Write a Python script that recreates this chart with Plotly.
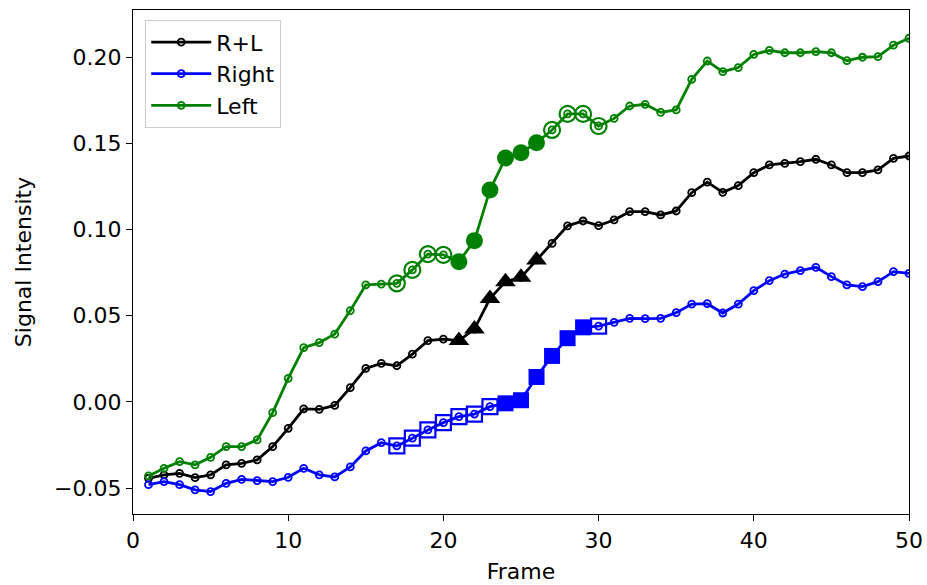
import plotly.graph_objects as go

frames = list(range(1, 51))

rl = [-0.0443, -0.0423, -0.0414, -0.0439, -0.0423, -0.0365, -0.0356, -0.0336, -0.0259, -0.0153,
      -0.0040, -0.0043, -0.0020, 0.0083, 0.0195, 0.0224, 0.0210, 0.0277, 0.0356, 0.0365,
      0.0356, 0.0423, 0.0600, 0.0698, 0.0723, 0.0824, 0.0920, 0.1022, 0.1050, 0.1023,
      0.1056, 0.1104, 0.1104, 0.1085, 0.1108, 0.1214, 0.1275, 0.1216, 0.1255, 0.1330,
      0.1375, 0.1384, 0.1394, 0.1408, 0.1375, 0.1330, 0.1330, 0.1346, 0.1413, 0.1427]

right = [-0.0480, -0.0462, -0.0480, -0.0510, -0.0520, -0.0472, -0.0449, -0.0456, -0.0462, -0.0437,
         -0.0385, -0.0423, -0.0435, -0.0377, -0.0284, -0.0236, -0.0255, -0.0210, -0.0162, -0.0120,
         -0.0085, -0.0070, -0.0027, -0.0008, 0.0010, 0.0145, 0.0267, 0.0370, 0.0433, 0.0440,
         0.0462, 0.0485, 0.0484, 0.0485, 0.0518, 0.0568, 0.0570, 0.0516, 0.0568, 0.0646,
         0.0704, 0.0742, 0.0762, 0.0781, 0.0727, 0.0679, 0.0669, 0.0698, 0.0756, 0.0746]

left = [-0.0429, -0.0385, -0.0346, -0.0365, -0.0321, -0.0259, -0.0259, -0.0220, -0.0062, 0.0137,
        0.0315, 0.0344, 0.0394, 0.0530, 0.0679, 0.0684, 0.0688, 0.0766, 0.0858, 0.0853,
        0.0814, 0.0936, 0.1230, 0.1415, 0.1446, 0.1504, 0.1578, 0.1671, 0.1671, 0.1601,
        0.1645, 0.1717, 0.1727, 0.1680, 0.1694, 0.1872, 0.1978, 0.1916, 0.1940, 0.2016,
        0.2040, 0.2026, 0.2026, 0.2032, 0.2026, 0.1980, 0.2000, 0.2003, 0.2070, 0.2110]

rl_filled_frames = [21, 22, 23, 24, 25, 26]
left_open_frames = [17, 18, 19, 20, 27, 28, 29, 30]
left_filled_frames = [21, 22, 23, 24, 25, 26]
right_open_frames = [17, 18, 19, 20, 21, 22, 23, 30]
right_filled_frames = [24, 25, 26, 27, 28, 29]

names = ["R+L", "Right", "Left"]
colors = ["black", "blue", "green"]


def pick(series, fr):
    return [series[f - 1] for f in fr]


fig = go.Figure()

for name, ser, col in zip(names, [rl, right, left], colors):
    fig.add_trace(go.Scatter(
        x=frames, y=ser, name=name, mode="lines+markers",
        line=dict(color=col, width=2.8),
        marker=dict(symbol="circle-open", size=7, color=col, line=dict(width=1.8, color=col)),
    ))

# highlight markers
fig.add_trace(go.Scatter(x=rl_filled_frames, y=pick(rl, rl_filled_frames), mode="markers",
                         showlegend=False,
                         marker=dict(symbol="triangle-up", size=18, color="black")))
fig.add_trace(go.Scatter(x=right_open_frames, y=pick(right, right_open_frames), mode="markers",
                         showlegend=False,
                         marker=dict(symbol="square-open", size=15, color="blue",
                                     line=dict(width=2.2, color="blue"))))
fig.add_trace(go.Scatter(x=right_filled_frames, y=pick(right, right_filled_frames), mode="markers",
                         showlegend=False,
                         marker=dict(symbol="square", size=16, color="blue")))
fig.add_trace(go.Scatter(x=left_open_frames, y=pick(left, left_open_frames), mode="markers",
                         showlegend=False,
                         marker=dict(symbol="circle-open", size=16, color="green",
                                     line=dict(width=2.2, color="green"))))
fig.add_trace(go.Scatter(x=left_filled_frames, y=pick(left, left_filled_frames), mode="markers",
                         showlegend=False,
                         marker=dict(symbol="circle", size=17, color="green")))

font_family = "DejaVu Sans"
fig.update_layout(
    width=927, height=585,
    margin=dict(l=133, r=18, t=10, b=71),
    plot_bgcolor="white", paper_bgcolor="white",
    font=dict(family=font_family, size=22, color="black"),
    showlegend=True,
    legend=dict(x=0.0155, y=0.98, xanchor="left", yanchor="top",
                bgcolor="rgba(255,255,255,0.8)", bordercolor="#cccccc", borderwidth=1.2,
                font=dict(size=22), itemwidth=60, tracegroupgap=0),
    xaxis=dict(range=[0, 50], tickvals=[0, 10, 20, 30, 40, 50], showgrid=False, zeroline=False,
               showline=True, mirror=True, linecolor="black", linewidth=1.2,
               ticks="outside", ticklen=6, tickcolor="black", automargin=False,
               title=dict(text="Frame", font=dict(size=22), standoff=12)),
    yaxis=dict(range=[-0.065, 0.2274], tickvals=[-0.05, 0, 0.05, 0.10, 0.15, 0.20],
               tickformat=".2f", showgrid=False, zeroline=False,
               showline=True, mirror=True, linecolor="black", linewidth=1.2,
               ticks="outside", ticklen=6, tickcolor="black", automargin=False,
               title=dict(text="Signal Intensity", font=dict(size=22), standoff=16)),
)

fig.write_html("out.html",
               config={"displayModeBar": False},
               post_script="document.body.style.margin='0';document.body.style.overflow='hidden';")
